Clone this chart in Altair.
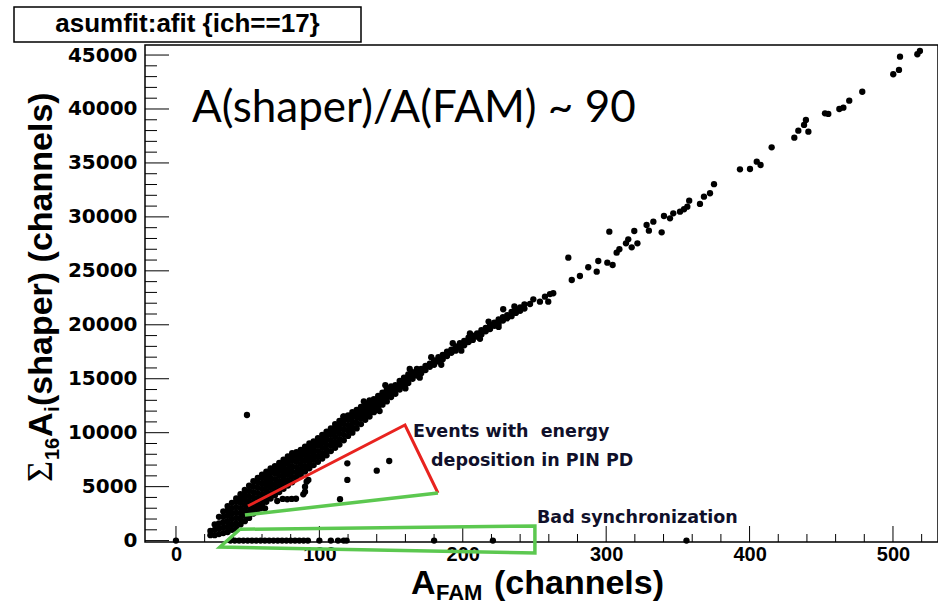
import altair as alt
import pandas as pd

# ------------------------------------------------------------------ data
# dense band (A_FAM -> list of Sum A_i values)
band_columns = {
    24: [500, 900],
    27: [500, 1000, 1500],
    30: [600, 1100, 1600, 2200],
    33: [700, 1200, 1700, 2200, 2700],
    36: [800, 1300, 1800, 2300, 2800, 3200],
    39: [1000, 1500, 2000, 2500, 3000, 3500],
    42: [1100, 1600, 2100, 2600, 3100, 3600, 3900],
    45: [1500, 2000, 2500, 3000, 3500, 4000, 4300],
    48: [1800, 2300, 2800, 3300, 3800, 4300, 4700],
    51: [2100, 2600, 3100, 3600, 4100, 4600, 5100],
    54: [2500, 3000, 3500, 4000, 4500, 5000, 5500],
    57: [2900, 3400, 3900, 4400, 4900, 5400, 5800],
    60: [3300, 3800, 4300, 4800, 5300, 5800, 6100],
    63: [3600, 4100, 4600, 5100, 5600, 6000, 6400],
    66: [3900, 4400, 4900, 5400, 5800, 6300, 6700],
    69: [4200, 4700, 5200, 5700, 6200, 6600, 6900],
    72: [4500, 5000, 5500, 6000, 6500, 6900, 7200],
    75: [4800, 5300, 5800, 6300, 6800, 7200, 7500],
    78: [5100, 5600, 6100, 6600, 7100, 7500, 7800],
    81: [5400, 5900, 6400, 6900, 7400, 7800, 8100],
    84: [5800, 6300, 6800, 7300, 7800, 8200],
    87: [6100, 6600, 7100, 7600, 8100, 8400],
    90: [6400, 6900, 7400, 7900, 8300, 8700],
    93: [6700, 7200, 7700, 8200, 8600, 9000],
    96: [7000, 7500, 8000, 8500, 8900, 9200],
    99: [7300, 7800, 8300, 8800, 9200, 9500],
    102: [7600, 8100, 8600, 9100, 9500, 9800],
    105: [7900, 8400, 8900, 9400, 9800, 10100],
    108: [8300, 8800, 9300, 9800, 10200, 10400],
    111: [8600, 9100, 9600, 10100, 10500, 10800],
    114: [8900, 9400, 9900, 10400, 10800, 11100],
    117: [9300, 9800, 10300, 10800, 11200, 11500],
    120: [9700, 10200, 10700, 11200, 11600],
    123: [10000, 10500, 11000, 11500, 11900],
    126: [10400, 10900, 11400, 11800, 12100],
    129: [10800, 11300, 11700, 12100, 12400],
    132: [11200, 11600, 12000, 12400, 12700],
    135: [11500, 11900, 12300, 12700, 13000],
    138: [11900, 12300, 12700, 13100],
    141: [12200, 12600, 13000, 13400],
    144: [12600, 13000, 13400, 13700],
    147: [12900, 13300, 13700, 14000],
    150: [13300, 13700, 14100, 14300],
    153: [13600, 14000, 14400],
    156: [14000, 14400, 14800],
    159: [14300, 14700, 15100],
    162: [14600, 15000, 15400],
    165: [15000, 15300, 15600],
    168: [15300, 15600, 15900],
    171: [15500, 15900],
    174: [15800, 16200],
    177: [16100, 16400],
    180: [16300, 16700],
    183: [16600, 17000],
    186: [16800, 17200],
    189: [17100, 17500],
    192: [17400, 17700],
    195: [17600, 18000],
    198: [17900, 18300],
    201: [18100, 18500],
    204: [18400, 18800],
    207: [18600, 19000],
    210: [18900, 19200],
    213: [19100, 19500],
    216: [19400, 19700],
    219: [19600, 20000],
    222: [19900, 20200],
    225: [20100, 20500],
    228: [20400, 20700],
    231: [20600, 20900],
    234: [20800, 21200],
    237: [21100, 21400],
    240: [21300, 21600],
    243: [21500, 21900],
}

# dots sticking out of the band edges
edge_x = [131, 142, 146, 160, 163, 170, 178, 185, 193, 199, 205, 212, 218, 225,
          228.2, 236]
edge_y = [12900, 12000, 14400, 14100, 15900, 15100, 17000, 16300, 18300, 17600,
          19200, 18700, 20300, 19800, 21440, 21700]

# sparse upper part of the correlation
sparse_x = [246.9, 249.2, 253.8, 257.3, 259.6, 260.8, 263.1, 273.6, 276.0, 281.7,
            287.5, 293.4, 294.5, 300.8, 304.5, 302.2, 307.3, 309.2, 313.8, 315.4,
            317.8, 319.6, 321.8, 328.2, 329.8, 332.9, 338.7, 340.3, 344.5, 346.8,
            351.5, 354.3, 356.6, 357.9, 365.4, 368.2, 372.4, 375.2, 393.3, 400.3,
            405.0, 407.7, 415.4, 431.2, 434.0, 438.0, 439.3, 441.0, 452.6, 454.9,
            462.6, 465.4, 469.5, 478.6, 500.2, 504.2, 504.9, 517.0, 518.8]
sparse_y = [21930, 22360, 22140, 22610, 22140, 22850, 22920, 26220, 24150, 24520,
            25330, 24920, 25910, 25760, 25540, 28630, 26680, 27000, 27550, 27920,
            27180, 28690, 27550, 29250, 28720, 29560, 28570, 30080, 29870, 30330,
            30480, 30710, 30950, 31500, 31200, 31870, 32190, 33030, 34410, 34440,
            35120, 34810, 36450, 37340, 37990, 38520, 38980, 37900, 39600, 39540,
            40000, 40120, 40770, 41600, 43220, 43620, 44850, 45070, 45380]

# events with energy deposition in PIN PD (below the band)
deposit_x = [119.5, 119.5, 114.4, 140.0, 148.7, 92.3, 90.0, 88.8, 83.7, 80.7,
             77.6, 74.4, 70.6, 62.1, 59.1, 55.8, 52.8, 73.7, 91.1, 90.0, 116.7]
deposit_y = [7160, 5620, 3830, 6480, 7380, 5620, 5000, 4290, 3880, 3860,
             3830, 3860, 3670, 2990, 2990, 2990, 2990, 5150, 5460, 4530, 11480]

outlier_x = [49.5]
outlier_y = [11640]

# bad synchronization: Sum A_i = 0
zero_x = [0, 38, 41, 44, 47, 50, 53, 56, 59, 62, 65, 68, 71, 74, 77, 80, 83, 86,
          89, 92, 100, 108, 113, 117, 119, 180, 221, 356]
zero_y = [0] * len(zero_x)

# hand-drawn annotation outlines (data coordinates)
red_x = [50.2, 159.7, 182.7]
red_y = [3207, 10714, 4411]
green_x = [182.7, 48.1]
green_y = [4411, 2373]
box_x = [44.6, 250.3, 250.3, 30.7, 44.6]
box_y = [1047, 1353, -1149, -593, 1047]

# axes
x_major = [0, 100, 200, 300, 400, 500]
x_minor = [20, 40, 60, 80, 120, 140, 160, 180, 220, 240, 260, 280, 320, 340,
           360, 380, 420, 440, 460, 480, 520]
y_major = [0, 5000, 10000, 15000, 20000, 25000, 30000, 35000, 40000, 45000]
y_minor = [1000, 2000, 3000, 4000, 6000, 7000, 8000, 9000, 11000, 12000, 13000,
           14000, 16000, 17000, 18000, 19000, 21000, 22000, 23000, 24000, 26000,
           27000, 28000, 29000, 31000, 32000, 33000, 34000, 36000, 37000, 38000,
           39000, 41000, 42000, 43000, 44000]

# ------------------------------------------------------------------ tables
rows = []
for bx, bys in band_columns.items():
    for by in bys:
        rows.append((bx, by))
rows += list(zip(edge_x, edge_y))
rows += list(zip(sparse_x, sparse_y))
rows += list(zip(deposit_x, deposit_y))
rows += list(zip(outlier_x, outlier_y))
rows += list(zip(zero_x, zero_y))
pts_df = pd.DataFrame(rows, columns=["x", "y"])

W, H = 793, 497
xs = alt.Scale(domain=[-21.6, 531.4], nice=False, zero=False)
ys = alt.Scale(domain=[-130, 45930], nice=False, zero=False)

x_axis = alt.Axis(values=x_major, format="d", labelFont="Liberation Sans",
                  labelFontWeight="bold", labelFontSize=20, labelColor="black",
                  ticks=False, tickSize=0, domain=False, grid=False,
                  labelPadding=2, labelFlush=False, labelOverlap=False, title=None)
y_axis = alt.Axis(values=y_major, format="d", labelFont="DejaVu Sans",
                  labelFontWeight="bold", labelFontSize=20, labelColor="black",
                  ticks=False, tickSize=0, domain=False, grid=False,
                  labelPadding=8, labelFlush=False, labelOverlap=False, title=None)


def X(field):
    return alt.X(field, scale=xs, axis=x_axis)


def Y(field):
    return alt.Y(field, scale=ys, axis=y_axis)


points = alt.Chart(pts_df).mark_circle(size=40, color="black", opacity=1).encode(
    x=X("x:Q"), y=Y("y:Q"))


def poly(xv, yv, color, width):
    df = pd.DataFrame({"x": xv, "y": yv, "i": list(range(len(xv)))})
    return alt.Chart(df).mark_line(color=color, strokeWidth=width,
                                   strokeJoin="miter").encode(
        x=X("x:Q"), y=Y("y:Q"), order=alt.Order("i:Q"))


red = poly(red_x, red_y, "#e8231f", 3)
green1 = poly(green_x, green_y, "#5cc850", 3.5)
green2 = poly(box_x, box_y, "#5cc850", 3.5)

xmaj = alt.Chart(pd.DataFrame({"x": x_major})).mark_rule(color="black", strokeWidth=1).encode(
    x=X("x:Q"), y=alt.value(H), y2=alt.value(H - 16))
xmin = alt.Chart(pd.DataFrame({"x": x_minor})).mark_rule(color="black", strokeWidth=1).encode(
    x=X("x:Q"), y=alt.value(H), y2=alt.value(H - 8))
ymaj = alt.Chart(pd.DataFrame({"y": y_major})).mark_rule(color="black", strokeWidth=1).encode(
    y=Y("y:Q"), x=alt.value(0), x2=alt.value(24))
ymin = alt.Chart(pd.DataFrame({"y": y_minor})).mark_rule(color="black", strokeWidth=1).encode(
    y=Y("y:Q"), x=alt.value(0), x2=alt.value(12))


def label(text, x, y, font, size, weight="bold", align="left", baseline="alphabetic",
          angle=0, color="black"):
    kw = dict(font=font, fontSize=size, fontWeight=weight, align=align,
              baseline=baseline, color=color)
    if angle:
        kw["angle"] = angle
    return alt.Chart(pd.DataFrame({"t": [text]})).mark_text(**kw).encode(
        text="t:N", x=alt.value(x), y=alt.value(y))


title_box = alt.Chart(pd.DataFrame({"a": [0]})).mark_rect(
    fill="white", stroke="black", strokeWidth=1.5).encode(
    x=alt.value(-131), x2=alt.value(216), y=alt.value(-38), y2=alt.value(-3))
title_txt = label("asumfit:afit {ich==17}", 42.5, -21, "Liberation Sans", 26,
                  align="center", baseline="middle")

big_txt = label("A(shaper)/A(FAM) ~ 90", 47, 77, "Lato", 44, weight="normal")

note_col = "#10102a"
ev1 = label("Events with\u00a0 energy", 268, 387, "DejaVu Sans", 17.5, baseline="middle", color=note_col)
ev2 = label("deposition in PIN PD", 286, 416, "DejaVu Sans", 17.5, baseline="middle", color=note_col)
bad = label("Bad synchronization", 392, 473, "DejaVu Sans", 17.5, baseline="middle", color=note_col)

# x title  A_FAM (channels)
xt1 = label("A", 266, 549, "Liberation Sans", 34)
xt2 = label("FAM", 291, 555, "Liberation Sans", 22)
xt3 = label("(channels)", 349, 549, "Liberation Sans", 34)

# y title  Sigma_16 A_i(shaper) (channels), rotated
yt1 = label("\u03a3", -93, 437, "Liberation Serif", 36, weight="normal", angle=270)
yt2 = label("16", -86, 415, "Liberation Sans", 20, angle=270)
yt3 = label("A", -93, 392, "Liberation Sans", 34, angle=270)
yt4 = label("i", -86, 367, "Liberation Sans", 20, angle=270)
yt5 = label("(shaper) (channels)", -93, 361, "Liberation Sans", 34, angle=270)

chart = alt.layer(
    points, xmin, xmaj, ymin, ymaj, red, green1, green2,
    title_box, title_txt, big_txt, ev1, ev2, bad,
    xt1, xt2, xt3, yt1, yt2, yt3, yt4, yt5,
).properties(
    width=W, height=H,
    padding={"left": 145, "top": 45, "right": 0, "bottom": 63},
    autosize=alt.AutoSizeParams(type="none"),
    background="white",
).configure_view(stroke="black", strokeWidth=1.5)

chart.save("out.html", embed_options={"renderer": "svg", "actions": False})
